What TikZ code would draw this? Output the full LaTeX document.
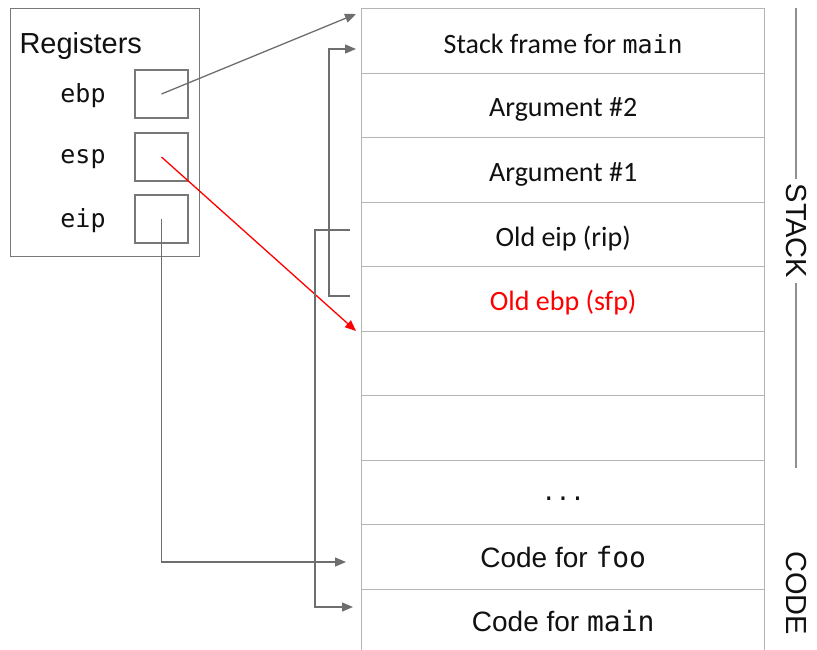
\documentclass[tikz,border=0pt]{standalone}
\usepackage{fontspec}
\setmainfont{Liberation Sans}
\newfontfamily\calfont{Carlito}
\newfontfamily\monofont{DejaVu Sans Mono}
\usetikzlibrary{arrows.meta,calc}
\definecolor{gridc}{HTML}{B4B4B4}
\definecolor{arrc}{HTML}{6E6E6E}
\definecolor{boxc}{HTML}{787878}
\definecolor{txt}{HTML}{111111}
\tikzset{
  cell/.style={draw=gridc, line width=1.4pt, minimum width=403pt, minimum height=64.5pt, inner sep=0pt, anchor=north west},
  regbox/.style={draw=boxc, line width=1.3pt, minimum width=53pt, minimum height=48pt, inner sep=0pt},
  ptr/.style={draw=arrc, line width=1.3pt, -{Triangle[length=11pt,width=9pt]}},
  redptr/.style={draw=red, line width=1.3pt, -{Triangle[length=11pt,width=9pt]}},
  calt/.style={font=\calfont\fontsize{28}{32}\selectfont, text=txt},
  ariat/.style={font=\fontsize{28}{32}\selectfont, text=txt},
  side/.style={font=\fontsize{29}{32}\selectfont, rotate=-90, text=txt, inner sep=5pt},
  sideline/.style={draw=gridc!80!black, line width=1.4pt},
  reglabel/.style={font=\monofont\fontsize{25}{28}\selectfont, text=txt},
}
\begin{document}
\begin{tikzpicture}[x=1pt,y=-1pt]
\useasboundingbox (0,0) rectangle (817,649);
% stack cells
\node[cell] (c0) at (361,8) {};
\node[cell] (c1) at (361,72.5) {};
\node[cell] (c2) at (361,137) {};
\node[cell] (c3) at (361,201.5) {};
\node[cell] (c4) at (361,266) {};
\node[cell] (c5) at (361,330.5) {};
\node[cell] (c6) at (361,395) {};
\node[cell] (c7) at (361,459.5) {};
\node[cell] (c8) at (361,524) {};
\node[cell] (c9) at (361,588.5) {};
% cell texts
\node[calt] (t0) at ($(c0.center)+(0,3)$) {Stack frame for {\monofont\fontsize{25}{28}\selectfont main}};
\node[calt] (t1) at ($(c1.center)+(0,4)$) {Argument \#2};
\node[calt] (t2) at ($(c2.center)+(0,4)$) {Argument \#1};
\node[calt] (t3) at ($(c3.center)+(0,4)$) {Old eip (rip)};
\node[calt, text=red] (t4) at ($(c4.center)+(0,4)$) {Old ebp (sfp)};
\node[font=\monofont\fontsize{24}{28}\selectfont, text=txt] (t7) at ($(c7.center)+(0,6)$) {...};
\node[ariat] (t8) at (c8.center) {Code for {\monofont foo}};
\node[ariat] (t9) at (c9.center) {Code for {\monofont main}};
% side labels
\node[side] (stk) at (796,231) {STACK};
\node[side] (code) at (796,593) {CODE};
\coordinate (stktop) at (796,8);
\coordinate (stkbot) at (796,468);
\draw[sideline] (stktop) -- (stk.west);
\draw[sideline] (stk.east) -- (stkbot);
% registers
\node[draw=boxc, line width=1.3pt, minimum width=189pt, minimum height=248pt, anchor=north west, inner sep=0pt] (regs) at (10,8) {};
\node[font=\fontsize{29}{32}\selectfont, anchor=west, text=txt] (rtitle) at (16,46) {Registers};
\node[regbox] (rebp) at (161.5,94) {};
\node[regbox] (resp) at (161.5,157) {};
\node[regbox] (reip) at (161.5,219) {};
\node[reglabel] (lebp) at (83,96) {ebp};
\node[reglabel] (lesp) at (83,159) {esp};
\node[reglabel] (leip) at (83,221) {eip};
% pointer targets and bends
\coordinate (tebp) at (356,14);
\coordinate (tsfp) at (356,49);
\coordinate (tesp) at (356,331);
\coordinate (tfoo) at (346,562);
\coordinate (tmain) at (353,607);
\coordinate (ssfp) at (350,296);
\coordinate (srip) at (350,230);
% connectors
\draw[ptr] (rebp.center) -- (tebp);
\draw[redptr] (resp.center) -- (tesp);
\draw[ptr] (reip.center) |- (tfoo);
\draw[ptr] (ssfp) -- (329,296) |- (tsfp);
\draw[ptr] (srip) -- (315,230) |- (tmain);
\end{tikzpicture}
\end{document}
